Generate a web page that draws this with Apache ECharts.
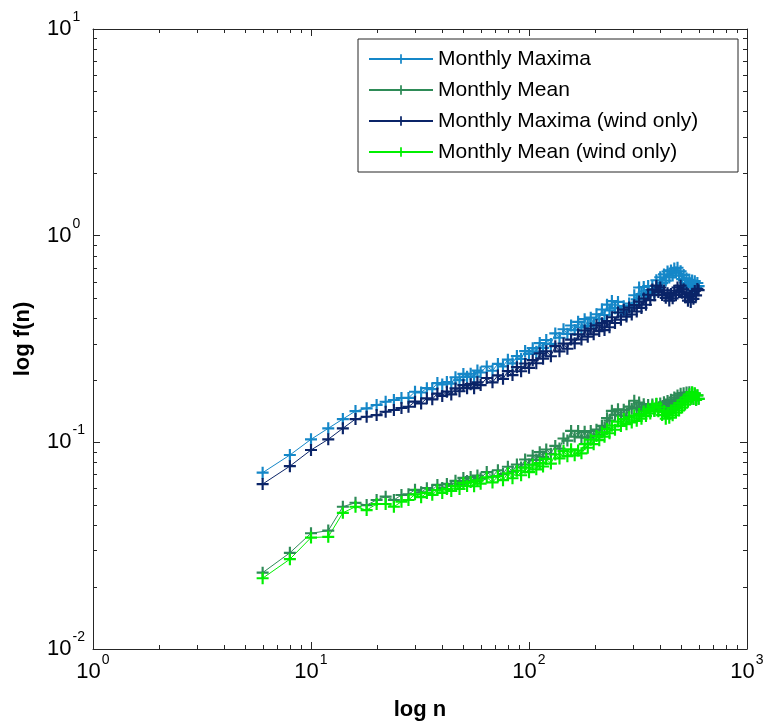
<!DOCTYPE html>
<html>
<head>
<meta charset="utf-8">
<script src="https://cdn.jsdelivr.net/npm/echarts@6/dist/echarts.min.js"></script>
<style>
  html, body { margin: 0; padding: 0; background: #fff; }
  #chart { width: 764px; height: 724px; }
</style>
</head>
<body>
<div id="chart"></div>
<script>
// box sizes n (x values)
const nValues = [6, 8, 10, 12, 14, 16, 18, 20, 22, 24, 26, 28, 30, 32, 34, 36, 38, 40, 42, 44, 46, 48, 50, 52, 54, 56, 58, 60,
  64, 68, 72, 76, 80, 84, 88, 92, 96, 100, 104, 108, 112, 116, 120,
  126, 132, 138, 144, 150, 156, 162, 168, 174, 180, 186, 192, 198, 204, 210, 216, 222, 228, 234, 240,
  248, 256, 264, 272, 280, 288, 296, 304, 312, 320, 328, 336, 344, 352, 360, 368, 376, 384, 392, 400,
  408, 416, 424, 432, 440, 448, 456, 464, 472, 480, 488, 496, 504, 512, 520, 528, 536, 544, 552, 560,
  568, 576, 584, 592, 600];

const monthlyMaxima = [0.0713, 0.0868, 0.1034, 0.1169, 0.1296, 0.1417, 0.146, 0.1516, 0.1572, 0.1602, 0.1638, 0.164, 0.1757, 0.1743, 0.1828, 0.181, 0.1935, 0.1907, 0.1959, 0.1922, 0.2064, 0.2, 0.2143, 0.2075, 0.2148, 0.208, 0.2224, 0.2177,
  0.2327, 0.2221, 0.2395, 0.2332, 0.2513, 0.2411, 0.2616, 0.253, 0.2765, 0.2675, 0.2855, 0.2747, 0.3022, 0.2862, 0.3128,
  0.2995, 0.3364, 0.3206, 0.3524, 0.3349, 0.3674, 0.3493, 0.3829, 0.3594, 0.3945, 0.3658, 0.4012, 0.3759, 0.4167, 0.395, 0.4395, 0.413, 0.4637, 0.4352, 0.4826,
  0.446, 0.4781, 0.4247, 0.4561, 0.4144, 0.4691, 0.4494, 0.5148, 0.4918, 0.5613, 0.5218, 0.5644, 0.516, 0.5708, 0.5218, 0.5708, 0.5317, 0.6086, 0.5607, 0.6295,
  0.5895, 0.6495, 0.6064, 0.6711, 0.6281, 0.6787, 0.6415, 0.6929, 0.6627, 0.6998, 0.6415, 0.6719, 0.6163, 0.6459, 0.5917, 0.6211, 0.5752, 0.6122, 0.5708, 0.6064,
  0.5657, 0.6021, 0.5613, 0.5904, 0.5696];

const monthlyMean = [0.0234, 0.0292, 0.0363, 0.0374, 0.0488, 0.051, 0.0497, 0.0526, 0.0546, 0.0526, 0.0556, 0.0561, 0.0589, 0.0573, 0.06, 0.0587, 0.0622, 0.0601, 0.0629, 0.0615, 0.0651, 0.0629, 0.0673, 0.065, 0.0679, 0.0648, 0.0691, 0.0668,
  0.0718, 0.0683, 0.0733, 0.0702, 0.0762, 0.0722, 0.0781, 0.0756, 0.0826, 0.0781, 0.0862, 0.0823, 0.0896, 0.0851, 0.0923,
  0.0881, 0.0961, 0.0933, 0.1044, 0.102, 0.1136, 0.1066, 0.1135, 0.1057, 0.1124, 0.1053, 0.1135, 0.107, 0.1152, 0.1086, 0.1202, 0.1173, 0.1309, 0.1274, 0.1421,
  0.1358, 0.1445, 0.1347, 0.1436, 0.1337, 0.1488, 0.1455, 0.159, 0.1473, 0.1559, 0.1435, 0.153, 0.1416, 0.1514, 0.1419, 0.1523, 0.1427, 0.1531, 0.1436, 0.154,
  0.145, 0.1563, 0.1471, 0.1583, 0.1491, 0.1609, 0.1526, 0.1647, 0.1562, 0.1686, 0.1597, 0.172, 0.1615, 0.173, 0.1624, 0.174, 0.1633, 0.1748, 0.1634, 0.1738,
  0.1619, 0.172, 0.1602, 0.1686, 0.1624];

const monthlyMaximaWind = [0.0628, 0.0767, 0.0918, 0.1034, 0.1169, 0.1296, 0.133, 0.1355, 0.1406, 0.1433, 0.1466, 0.1486, 0.1573, 0.1542, 0.1633, 0.1615, 0.1722, 0.1677, 0.1759, 0.1705, 0.1824, 0.1767, 0.189, 0.1828, 0.1912, 0.1828, 0.1954, 0.1893,
  0.2048, 0.1952, 0.2108, 0.2029, 0.2212, 0.2115, 0.2311, 0.2207, 0.2406, 0.2294, 0.2499, 0.2414, 0.2695, 0.2541, 0.2759,
  0.261, 0.292, 0.2755, 0.3005, 0.2836, 0.3142, 0.3012, 0.3331, 0.3146, 0.3478, 0.3242, 0.355, 0.3331, 0.3682, 0.3454, 0.3772, 0.3493, 0.3859, 0.3606, 0.403,
  0.378, 0.4247, 0.3919, 0.4385, 0.4061, 0.4489, 0.4153, 0.4611, 0.4298, 0.4797, 0.447, 0.4968, 0.4632, 0.5177, 0.488, 0.5483, 0.5154, 0.5727, 0.5335, 0.5613,
  0.5166, 0.5435, 0.5002, 0.527, 0.4853, 0.5218, 0.4973, 0.5416, 0.5154, 0.5613, 0.5341, 0.5727, 0.53, 0.5501, 0.5041, 0.5288, 0.4848, 0.5086, 0.4771, 0.5212,
  0.4946, 0.5398, 0.5137, 0.5525, 0.5447];

const monthlyMeanWind = [0.022, 0.0272, 0.0346, 0.0349, 0.0456, 0.0488, 0.047, 0.0503, 0.0503, 0.0488, 0.0516, 0.0526, 0.056, 0.0543, 0.0569, 0.0557, 0.0588, 0.0569, 0.0594, 0.0582, 0.0616, 0.0595, 0.0636, 0.0615, 0.0642, 0.0613, 0.0654, 0.0631,
  0.0677, 0.064, 0.0686, 0.0656, 0.0708, 0.067, 0.0729, 0.0693, 0.0755, 0.0717, 0.0779, 0.074, 0.0793, 0.0764, 0.0831,
  0.0789, 0.0873, 0.0836, 0.0907, 0.0857, 0.0926, 0.0865, 0.0913, 0.0885, 0.098, 0.0941, 0.1029, 0.098, 0.1072, 0.1024, 0.1116, 0.1065, 0.116, 0.1106, 0.1204,
  0.1151, 0.126, 0.12, 0.1296, 0.1224, 0.1322, 0.1249, 0.1347, 0.1271, 0.1371, 0.13, 0.141, 0.134, 0.1453, 0.1379, 0.1494, 0.1416, 0.1535, 0.1413, 0.1478,
  0.1355, 0.1418, 0.13, 0.1385, 0.1316, 0.1426, 0.1352, 0.1466, 0.139, 0.1506, 0.1427, 0.1548, 0.1473, 0.16, 0.1523, 0.1653, 0.1573, 0.1707, 0.162, 0.1747,
  0.1625, 0.1727, 0.1606, 0.1688, 0.1624];

const seriesNames = ['Monthly Maxima', 'Monthly Mean', 'Monthly Maxima (wind only)', 'Monthly Mean (wind only)'];
const seriesColors = ['#1587c8', '#2e8b57', '#0a2468', '#00f000'];

// minor tick positions of the log axes
const xMinorTicks = [2, 3, 4, 5, 6, 7, 8, 9, 20, 30, 40, 50, 60, 70, 80, 90, 200, 300, 400, 500, 600, 700, 800, 900];
const yMinorTicks = [0.02, 0.03, 0.04, 0.05, 0.06, 0.07, 0.08, 0.09, 0.2, 0.3, 0.4, 0.5, 0.6, 0.7, 0.8, 0.9, 2, 3, 4, 5, 6, 7, 8, 9];

const font = "'Liberation Sans', Arial, sans-serif";
const axisColor = '#262626';
const plus = 'path://M4.1,0H5.9V4.1H10V5.9H5.9V10H4.1V5.9H0V4.1H4.1Z';

const powLabel = v => '{b|10}{e|' + Math.round(Math.log10(v)) + '}';
const powRich = {
  b: { fontSize: 22, fontFamily: font, color: '#000', lineHeight: 26 },
  e: { fontSize: 14, fontFamily: font, color: '#000', lineHeight: 14, padding: [0, 0, 24, 1] }
};

const chart = echarts.init(document.getElementById('chart'));

function lineSeries(i, values) {
  return {
    name: seriesNames[i],
    type: 'line',
    data: nValues.map((n, k) => [n, values[k]]),
    symbol: plus,
    symbolSize: 12,
    showSymbol: true,
    lineStyle: { width: 1, color: seriesColors[i] },
    itemStyle: { color: seriesColors[i], borderWidth: 0 },
    emphasis: { disabled: true }
  };
}

function minorTicks(data, horizontal) {
  return {
    type: 'custom',
    silent: true,
    clip: false,
    data: horizontal ? data.map(v => [v, 1]) : data.map(v => [1, v]),
    renderItem: (params, api) => {
      let a, b, lines;
      if (horizontal) {
        const v = api.value(0);
        a = api.coord([v, 0.01]);
        b = api.coord([v, 10]);
        const x = Math.round(a[0]) + 0.5;
        lines = [[x, a[1], x, a[1] - 4], [x, b[1], x, b[1] + 4]];
      } else {
        const v = api.value(1);
        a = api.coord([1, v]);
        b = api.coord([1000, v]);
        const y = Math.round(a[1]) + 0.5;
        lines = [[a[0], y, a[0] + 4, y], [b[0], y, b[0] - 4, y]];
      }
      return {
        type: 'group',
        children: lines.map(l => ({
          type: 'line',
          shape: { x1: l[0], y1: l[1], x2: l[2], y2: l[3] },
          style: { stroke: axisColor, lineWidth: 1 }
        }))
      };
    }
  };
}

const baseX = {
  type: 'log', logBase: 10, min: 1, max: 1000, splitNumber: 3,
  axisLine: { show: true, lineStyle: { color: axisColor, width: 1 } },
  axisTick: { show: true, inside: true, length: 7, lineStyle: { color: axisColor } },
  splitLine: { show: false }
};
const baseY = {
  type: 'log', logBase: 10, min: 0.01, max: 10, splitNumber: 3,
  axisLine: { show: true, lineStyle: { color: axisColor, width: 1 } },
  axisTick: { show: true, inside: true, length: 7, lineStyle: { color: axisColor } },
  splitLine: { show: false }
};

const option = {
  animation: false,
  backgroundColor: '#fff',
  grid: { left: 93, right: 17, top: 29, bottom: 75, outerBoundsMode: 'none', containLabel: false },
  xAxis: [
    Object.assign({}, baseX, {
      position: 'bottom',
      axisLabel: { formatter: powLabel, rich: powRich, margin: 10 },
      name: 'log n', nameLocation: 'middle', nameGap: 50,
      nameTextStyle: { fontSize: 22, fontFamily: font, color: '#000', fontWeight: 'bold' }
    }),
    Object.assign({}, baseX, { position: 'top', axisLabel: { show: false } })
  ],
  yAxis: [
    Object.assign({}, baseY, {
      position: 'left',
      axisLabel: { formatter: powLabel, rich: powRich, margin: 46, align: 'left' },
      name: 'log f(n)', nameLocation: 'middle', nameGap: 59,
      nameTextStyle: { fontSize: 22, fontFamily: font, color: '#000', fontWeight: 'bold' }
    }),
    Object.assign({}, baseY, { position: 'right', axisLabel: { show: false } })
  ],
  legend: {
    data: seriesNames,
    orient: 'vertical',
    left: 358,
    top: 39,
    itemWidth: 64,
    itemHeight: 12,
    itemGap: 7,
    padding: [8, 10, 8, 10],
    backgroundColor: '#fff',
    borderColor: axisColor,
    borderWidth: 1,
    borderRadius: 0,
    selectedMode: false,
    textStyle: { fontSize: 21, fontFamily: font, color: '#000', lineHeight: 24, width: 290 }
  },
  series: [
    lineSeries(0, monthlyMaxima),
    lineSeries(1, monthlyMean),
    lineSeries(2, monthlyMaximaWind),
    lineSeries(3, monthlyMeanWind),
    minorTicks(xMinorTicks, true),
    minorTicks(yMinorTicks, false)
  ]
};

chart.setOption(option);
</script>
</body>
</html>
